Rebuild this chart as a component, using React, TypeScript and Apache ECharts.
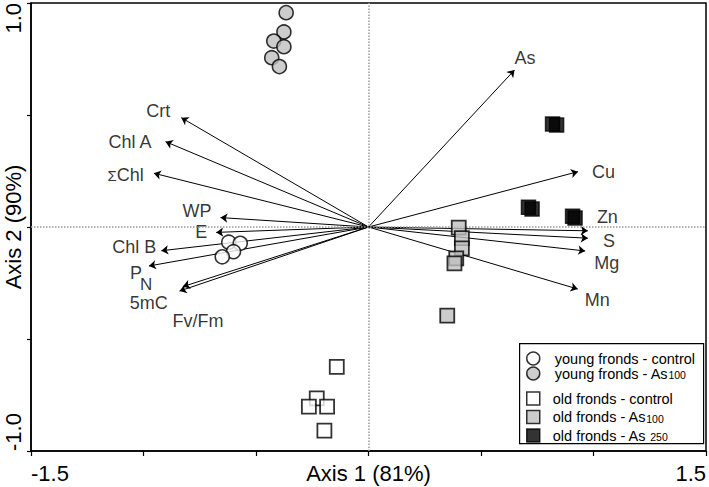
import React, { useEffect, useRef } from 'react';
import * as echarts from 'echarts';

// ---- data ----
const youngControl = [[-0.621, -0.068], [-0.570, -0.073], [-0.600, -0.110], [-0.650, -0.133]];
const youngAs100 = [[-0.366, 0.957], [-0.376, 0.871], [-0.421, 0.830], [-0.376, 0.805], [-0.430, 0.756], [-0.396, 0.716]];
const oldControl = [[-0.141, -0.624], [-0.230, -0.765], [-0.265, -0.802], [-0.184, -0.802], [-0.196, -0.909]];
const oldAs100 = [[0.401, -0.003], [0.415, -0.050], [0.415, -0.095], [0.390, -0.140], [0.382, -0.162], [0.350, -0.396]];
const oldAs250 = [[0.818, 0.460], [0.836, 0.455], [0.711, 0.088], [0.727, 0.080], [0.907, 0.048], [0.918, 0.040]];

const loadingNames = ['As', 'Cu', 'Zn', 'S', 'Mg', 'Mn', 'Crt', 'Chl A', 'ΣChl', 'WP', 'E', 'Chl B', 'PN', '5mC', 'Fv/Fm'];
const loadingX = [0.649, 0.931, 0.975, 0.975, 0.963, 0.930, -0.832, -0.902, -0.954, -0.658, -0.677, -0.921, -0.976, -0.825, -0.840];
const loadingY = [0.701, 0.247, -0.017, -0.050, -0.107, -0.277, 0.488, 0.381, 0.240, 0.042, -0.024, -0.106, -0.174, -0.266, -0.286];

const xTickLabels = [-1.5, 1.5];
const yTickLabels = [-1.0, 1.0];
const xAxisTitle = 'Axis 1 (81%)';
const yAxisTitle = 'Axis 2 (90%)';

const seriesNames = [
  'young fronds - control',
  'young fronds - As100',
  'old fronds - control',
  'old fronds - As100',
  'old fronds - As250',
];
const legendText: Record<string, string> = {
  'young fronds - control': 'young fronds - control',
  'young fronds - As100': 'young fronds - As{sub|100}',
  'old fronds - control': 'old fronds - control',
  'old fronds - As100': 'old fronds - As{sub|100}',
  'old fronds - As250': 'old fronds - As {sub|250}',
};

// ---- label placement (style) ----
const labelPlace: Record<string, { align: string; dx: number; dy: number }> = {
  As: { align: 'left', dx: 0, dy: -12 },
  Cu: { align: 'left', dx: 14, dy: 0 },
  Zn: { align: 'left', dx: 9, dy: -14 },
  S: { align: 'left', dx: 15, dy: 3 },
  Mg: { align: 'left', dx: 9, dy: 12 },
  Mn: { align: 'left', dx: 7, dy: 11 },
  Crt: { align: 'right', dx: -11, dy: -7 },
  'Chl A': { align: 'right', dx: -14, dy: 0 },
  'ΣChl': { align: 'right', dx: -10, dy: 2 },
  WP: { align: 'right', dx: -9, dy: -7 },
  E: { align: 'right', dx: -9, dy: 0 },
  'Chl B': { align: 'right', dx: -5, dy: -4 },
  PN: { align: 'left', dx: -19, dy: 13 },
  '5mC': { align: 'right', dx: -15, dy: 16 },
  'Fv/Fm': { align: 'left', dx: -7, dy: 30 },
};

const FONT = 'Liberation Sans, Arial, sans-serif';

function loadingLabel(name: string) {
  if (name === 'ΣChl') return '{sig|Σ}Chl';
  if (name === 'PN') return '{p|P}\n{n|N}';
  return name;
}

export default function App() {
  const ref = useRef<HTMLDivElement>(null);
  useEffect(() => {
    document.body.style.margin = '0';
    const chart = echarts.init(ref.current!, null, { renderer: 'svg' });
    const markerBorder = { borderColor: '#000', borderWidth: 1.6 };
    const option: any = {
      animation: false,
      backgroundColor: '#fff',
      textStyle: { fontFamily: FONT },
      grid: {
        left: 31, right: 3, top: 3, bottom: 36,
        show: true, borderColor: '#000', borderWidth: 1.5, containLabel: false,
        outerBoundsMode: 'none',
      },
      xAxis: {
        type: 'value', min: -1.5, max: 1.5, interval: 0.5,
        name: xAxisTitle, nameLocation: 'middle', nameGap: 11, nameMoveOverlap: false,
        nameTextStyle: { fontSize: 22, color: '#000', fontFamily: FONT, verticalAlign: 'top' },
        axisLine: { show: true, onZero: false, lineStyle: { color: '#000', width: 1.5 } },
        axisTick: { show: true, length: 5, lineStyle: { color: '#000', width: 1.2 } },
        splitLine: { show: false },
        axisLabel: {
          margin: 11, fontSize: 22, color: '#000', fontFamily: FONT,
          alignMinLabel: 'left', alignMaxLabel: 'right',
          formatter: (v: number) => (xTickLabels.some((t) => Math.abs(t - v) < 1e-6) ? v.toFixed(1) : ''),
        },
      },
      yAxis: {
        type: 'value', min: -1, max: 1, interval: 0.5,
        name: yAxisTitle, nameLocation: 'middle', nameGap: 8, nameMoveOverlap: false,
        nameTextStyle: { fontSize: 22, lineHeight: 20, color: '#000', fontFamily: FONT },
        axisLine: { show: true, onZero: false, lineStyle: { color: '#000', width: 1.5 } },
        axisTick: { show: true, length: 4, lineStyle: { color: '#000', width: 1.2 } },
        splitLine: { show: false },
        axisLabel: {
          rotate: 90, margin: 8, fontSize: 22, lineHeight: 20, color: '#000', fontFamily: FONT,
          alignMinLabel: 'left', alignMaxLabel: 'right',
          formatter: (v: number) => (yTickLabels.some((t) => Math.abs(t - v) < 1e-6) ? v.toFixed(1) : ''),
        },
      },
      legend: [
        {
          data: [seriesNames[0], seriesNames[1]],
          orient: 'vertical', left: 526, top: 351, padding: 0, itemGap: 0,
          itemWidth: 13, itemHeight: 13,
          itemStyle: { borderColor: '#000', borderWidth: 1.5 },
          selectedMode: false,
          formatter: (n: string) => legendText[n],
          textStyle: {
            fontFamily: FONT, fontSize: 14.5, color: '#000', lineHeight: 14, padding: [0, 0, 0, 10],
            rich: { sub: { fontSize: 10.5, lineHeight: 6, verticalAlign: 'bottom', fontFamily: FONT, color: '#000' } },
          },
        },
        {
          data: [seriesNames[2], seriesNames[3], seriesNames[4]],
          orient: 'vertical', left: 526, top: 391, padding: 0, itemGap: 3.5,
          itemWidth: 13, itemHeight: 13,
          itemStyle: { borderColor: '#000', borderWidth: 1.5 },
          selectedMode: false,
          formatter: (n: string) => legendText[n],
          textStyle: {
            fontFamily: FONT, fontSize: 14.5, color: '#000', lineHeight: 14, padding: [0, 0, 0, 8],
            rich: { sub: { fontSize: 10.5, lineHeight: 6, verticalAlign: 'bottom', fontFamily: FONT, color: '#000' } },
          },
        },
      ],
      graphic: [
        {
          type: 'rect', left: 519, top: 343, z: 0,
          shape: { width: 184, height: 100 },
          style: { fill: '#fff', stroke: '#000', lineWidth: 1.2 },
        },
      ],
      series: [
        {
          type: 'scatter', data: [], z: 1, silent: true,
          markLine: {
            silent: true, symbol: ['none', 'none'], label: { show: false },
            lineStyle: { color: '#9a9a9a', type: 'dotted', width: 1.5 },
            emphasis: { disabled: true },
            data: [{ xAxis: 0 }, { yAxis: 0 }],
          },
        },
        {
          type: 'lines', coordinateSystem: 'cartesian2d', z: 2, silent: true,
          symbol: ['none', 'arrow'], symbolSize: 7,
          lineStyle: { color: '#000', width: 1, opacity: 1 },
          data: loadingNames.map((n, i) => ({ name: n, coords: [[0, 0], [loadingX[i], loadingY[i]]] })),
        },
        {
          type: 'scatter', z: 3, silent: true, symbolSize: 1,
          itemStyle: { color: 'rgba(0,0,0,0)' },
          label: {
            show: true, position: 'inside', fontSize: 18, color: '#000', fontFamily: FONT,
            textBorderWidth: 0,
            formatter: (p: any) => loadingLabel(p.name),
            rich: {
              sig: { fontSize: 15, color: '#000', fontFamily: FONT },
              p: { fontSize: 18, lineHeight: 12, color: '#000', fontFamily: FONT },
              n: { fontSize: 17, lineHeight: 12, padding: [0, 0, 0, 10], color: '#000', fontFamily: FONT },
            },
          },
          data: loadingNames.map((n, i) => {
            const pl = labelPlace[n];
            return {
              name: n, value: [loadingX[i], loadingY[i]],
              label: { align: pl.align, verticalAlign: 'middle', offset: [pl.dx, pl.dy] },
            };
          }),
        },
        {
          name: seriesNames[0], type: 'scatter', symbol: 'circle', symbolSize: 14, z: 5,
          itemStyle: { color: '#fff', ...markerBorder }, data: youngControl,
        },
        {
          name: seriesNames[1], type: 'scatter', symbol: 'circle', symbolSize: 14, z: 5,
          itemStyle: { color: '#c0c0c0', ...markerBorder }, data: youngAs100,
        },
        {
          name: seriesNames[2], type: 'scatter', symbol: 'rect', symbolSize: 14, z: 5,
          itemStyle: { color: '#fff', borderColor: '#000', borderWidth: 1.8 }, data: oldControl,
        },
        {
          name: seriesNames[3], type: 'scatter', symbol: 'rect', symbolSize: 14, z: 5,
          itemStyle: { color: '#bfbfbf', borderColor: '#000', borderWidth: 1.8 }, data: oldAs100,
        },
        {
          name: seriesNames[4], type: 'scatter', symbol: 'rect', symbolSize: 14, z: 5,
          itemStyle: { color: '#000', borderColor: '#000', borderWidth: 1.5 }, data: oldAs250,
        },
      ],
    };
    chart.setOption(option);
    return () => chart.dispose();
  }, []);
  return <div ref={ref} style={{ width: 709, height: 487 }} />;
}
